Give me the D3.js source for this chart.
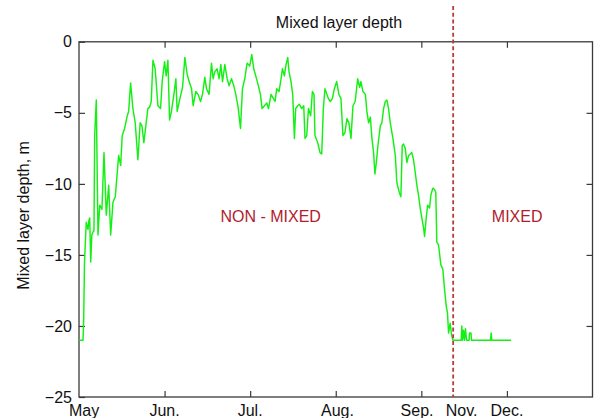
<!DOCTYPE html>
<html>
<head>
<meta charset="utf-8">
<script src="https://cdn.jsdelivr.net/npm/d3@7"></script>
<style>
  body { margin: 0; background: #fff; }
  svg { display: block; }
  text { font-family: "Liberation Sans", Arial, Helvetica, sans-serif; }
</style>
</head>
<body>
<svg id="chart" width="594" height="418"></svg>
<script>
// Season position in month units (0 = start of May) and mixed layer depth (m, negative down)
const monthPos = [
  0, 0.047, 0.055, 0.064, 0.075, 0.085, 0.095, 0.105, 0.115, 0.125, 0.137, 0.150, 0.163, 0.175,
  0.183, 0.202, 0.222, 0.242, 0.268, 0.292, 0.319, 0.347, 0.370, 0.397, 0.424, 0.447, 0.463,
  0.487, 0.505, 0.533, 0.564, 0.580, 0.603, 0.630, 0.657, 0.688, 0.715, 0.735, 0.758, 0.785,
  0.805, 0.825, 0.844, 0.864, 0.890, 0.922, 0.953, 0.972, 1.000, 1.019, 1.039, 1.058, 1.080,
  1.109, 1.132, 1.147, 1.179, 1.210, 1.237, 1.264, 1.287, 1.315, 1.334, 1.365, 1.392, 1.420,
  1.443, 1.470, 1.490, 1.520, 1.548, 1.567, 1.587, 1.614, 1.637, 1.657, 1.677, 1.704, 1.731,
  1.754, 1.782, 1.809, 1.832, 1.859, 1.887, 1.910, 1.937, 1.964, 1.995, 2.019, 2.042, 2.065,
  2.092, 2.120, 2.139, 2.167, 2.194, 2.214, 2.244, 2.272, 2.291, 2.310, 2.337, 2.361, 2.377,
  2.400, 2.416, 2.439, 2.454, 2.477, 2.497, 2.517, 2.532, 2.555, 2.575, 2.602, 2.626, 2.641,
  2.661, 2.681, 2.707, 2.727, 2.746, 2.757, 2.789, 2.816, 2.836, 2.855, 2.874, 2.897, 2.914,
  2.937, 2.960, 2.984, 3.011, 3.037, 3.061, 3.084, 3.107, 3.131, 3.154, 3.178, 3.201, 3.227,
  3.256, 3.279, 3.294, 3.318, 3.346, 3.364, 3.384, 3.404, 3.423, 3.442, 3.458, 3.474, 3.493,
  3.521, 3.539, 3.559, 3.579, 3.598, 3.617, 3.637, 3.668, 3.696, 3.714, 3.742, 3.761, 3.777,
  3.792, 3.812, 3.831, 3.851, 3.871, 3.889, 3.909, 3.929, 3.948, 3.967, 3.987, 4.006, 4.026,
  4.038, 4.057, 4.073, 4.096, 4.111, 4.134, 4.154, 4.169, 4.181, 4.201, 4.228, 4.251, 4.271,
  4.291, 4.306, 4.318, 4.337, 4.353, 4.368, 4.423, 4.466, 4.473, 4.481, 4.493, 4.504, 4.516,
  4.528, 4.558, 4.563, 4.580, 4.586, 4.808, 4.816, 4.823, 5.049
];
const depth = [
  -21.0, -21.0, -19.5, -15.6, -14.0, -12.7, -13.0, -13.2, -12.6, -12.4, -15.5, -13.6, -13.4, -13.3,
  -6.6, -4.1, -13.6, -11.5, -11.8, -7.8, -12.2, -10.1, -13.6, -11.3, -10.9, -9.2, -8.0,
  -8.7, -6.6, -6.1, -5.2, -4.9, -2.9, -4.7, -5.7, -8.3, -5.7, -5.9, -7.1, -5.7,
  -4.7, -4.6, -4.2, -1.3, -1.9, -4.5, -4.7, -2.8, -1.4, -2.4, -1.3, -5.5, -4.9,
  -3.7, -2.6, -4.9, -4.0, -3.2, -1.1, -2.3, -2.8, -3.3, -4.5, -3.5, -3.7, -4.2,
  -3.7, -2.5, -3.3, -3.7, -1.5, -2.6, -2.1, -1.9, -2.6, -1.6, -2.8, -1.6, -2.6,
  -3.1, -2.6, -3.1, -3.7, -4.6, -6.1, -3.3, -2.6, -1.5, -1.7, -0.9, -1.9, -2.4,
  -3.0, -3.7, -4.7, -4.5, -4.3, -4.7, -3.7, -4.0, -4.2, -3.3, -3.5, -2.6, -1.9,
  -2.4, -1.7, -1.1, -2.1, -2.8, -3.7, -6.8, -4.7, -4.5, -4.4, -4.7, -4.5, -6.8,
  -6.6, -4.7, -5.2, -3.5, -3.7, -6.6, -7.1, -7.8, -7.9, -4.7, -3.3, -3.7, -4.0,
  -4.2, -4.0, -3.3, -2.8, -3.7, -4.0, -6.6, -6.4, -5.4, -5.7, -6.8, -4.5, -4.2,
  -2.6, -3.2, -2.8, -3.5, -3.7, -4.9, -5.7, -5.3, -6.8, -7.8, -9.3, -8.5, -7.3,
  -5.9, -5.7, -4.7, -4.2, -4.1, -4.7, -5.7, -6.8, -8.0, -9.9, -10.6, -10.9, -7.3,
  -7.2, -7.5, -8.5, -8.0, -7.9, -7.8, -8.3, -9.2, -10.1, -10.8, -11.7, -12.4, -13.1,
  -13.7, -12.4, -11.5, -11.7, -10.8, -10.3, -10.4, -10.6, -14.1, -14.3, -15.7, -16.0, -17.4,
  -18.6, -19.1, -20.5, -19.8, -20.6, -21.0, -21.0, -21.0, -20.0, -21.0, -20.3, -21.0, -20.2,
  -21.0, -21.0, -20.5, -20.5, -21.0, -21.0, -20.5, -21.0, -21.0
];

const depthTicks = [0, -5, -10, -15, -20, -25];
const monthTicks = [1, 2, 3, 4, 5];
const monthLabels = ["May", "Jun.", "Jul.", "Aug.", "Sep.", "Nov.", "Dec."];
const monthLabelPos = [0.06, 1, 2, 3.02, 3.95, 4.47, 5];
const mixingOnset = 4.372;
const regionLabels = ["NON - MIXED", "MIXED"];
const regionLabelPos = [2.24, 5.12];
const regionLabelDepth = -12.26;

const width = 594, height = 418;
const margin = { top: 41.8, right: 1.5, bottom: 21, left: 79 };

const svg = d3.select("#chart");
svg.append("rect").attr("width", width).attr("height", height).attr("fill", "#fff");

const x = d3.scaleLinear().domain([0, 6]).range([margin.left, width - margin.right]);
const y = d3.scaleLinear().domain([-25, 0]).range([height - margin.bottom, margin.top]);

const axisColor = "#3a3a3a";
const fontSize = 16;

function styleAxis(g) {
  g.select(".domain").remove();
  g.selectAll(".tick line").attr("stroke", axisColor).attr("stroke-width", 1.2);
  g.selectAll(".tick text")
    .attr("fill", "#111")
    .style("font-size", fontSize + "px")
    .style("font-family", '"Liberation Sans", Arial, Helvetica, sans-serif');
}

// Left axis with inward ticks and labels
svg.append("g")
  .attr("transform", `translate(${x(0)},0)`)
  .call(d3.axisLeft(y).tickValues(depthTicks).tickSize(-6).tickPadding(7))
  .call(styleAxis);

// Right axis mirror ticks
svg.append("g")
  .attr("transform", `translate(${x(6)},0)`)
  .call(d3.axisRight(y).tickValues(depthTicks.slice(1, -1)).tickSize(-6).tickFormat(""))
  .call(styleAxis);

// Top and bottom month ticks
svg.append("g")
  .attr("transform", `translate(0,${y(0)})`)
  .call(d3.axisTop(x).tickValues(monthTicks).tickSize(-6).tickFormat(""))
  .call(styleAxis);

svg.append("g")
  .attr("transform", `translate(0,${y(-25)})`)
  .call(d3.axisBottom(x).tickValues(monthTicks).tickSize(-6).tickFormat(""))
  .call(styleAxis);

// Month labels along the bottom
svg.append("g")
  .selectAll("text")
  .data(monthLabels)
  .join("text")
  .attr("x", (d, i) => x(monthLabelPos[i]))
  .attr("y", y(-25) + 18.5)
  .attr("text-anchor", "middle")
  .attr("fill", "#111")
  .style("font-size", fontSize + "px")
  .text(d => d);

// Plot frame
svg.append("rect")
  .attr("x", x(0)).attr("y", y(0))
  .attr("width", x(6) - x(0)).attr("height", y(-25) - y(0))
  .attr("fill", "none")
  .attr("stroke", axisColor)
  .attr("stroke-width", 1.3);

// Mixed layer depth series
const series = monthPos.map((m, i) => ({ m, d: depth[i] }));
const line = d3.line().x(p => x(p.m)).y(p => y(p.d));
svg.append("path")
  .datum(series)
  .attr("d", line)
  .attr("fill", "none")
  .attr("stroke", "#14f014")
  .attr("stroke-width", 1.45)
  .attr("stroke-linejoin", "round");

// Onset of mixing
svg.append("line")
  .attr("x1", x(mixingOnset)).attr("x2", x(mixingOnset))
  .attr("y1", 6).attr("y2", y(-25))
  .attr("stroke", "#b83a3a")
  .attr("stroke-width", 1.8)
  .attr("stroke-dasharray", "4,2.7");

// Regime labels
svg.append("g")
  .selectAll("text")
  .data(regionLabels)
  .join("text")
  .attr("x", (d, i) => x(regionLabelPos[i]))
  .attr("y", y(regionLabelDepth))
  .attr("dy", "0.36em")
  .attr("text-anchor", "middle")
  .attr("fill", "#b01c2e")
  .style("font-size", fontSize + "px")
  .text(d => d);

// Title
svg.append("text")
  .attr("x", 339)
  .attr("y", 27.5)
  .attr("text-anchor", "middle")
  .attr("fill", "#111")
  .style("font-size", fontSize + "px")
  .text("Mixed layer depth");

// Y axis title
svg.append("text")
  .attr("transform", `translate(28.5,${(y(0) + y(-25)) / 2 - 4}) rotate(-90)`)
  .attr("text-anchor", "middle")
  .attr("fill", "#111")
  .style("font-size", fontSize + "px")
  .text("Mixed layer depth, m");
</script>
</body>
</html>
